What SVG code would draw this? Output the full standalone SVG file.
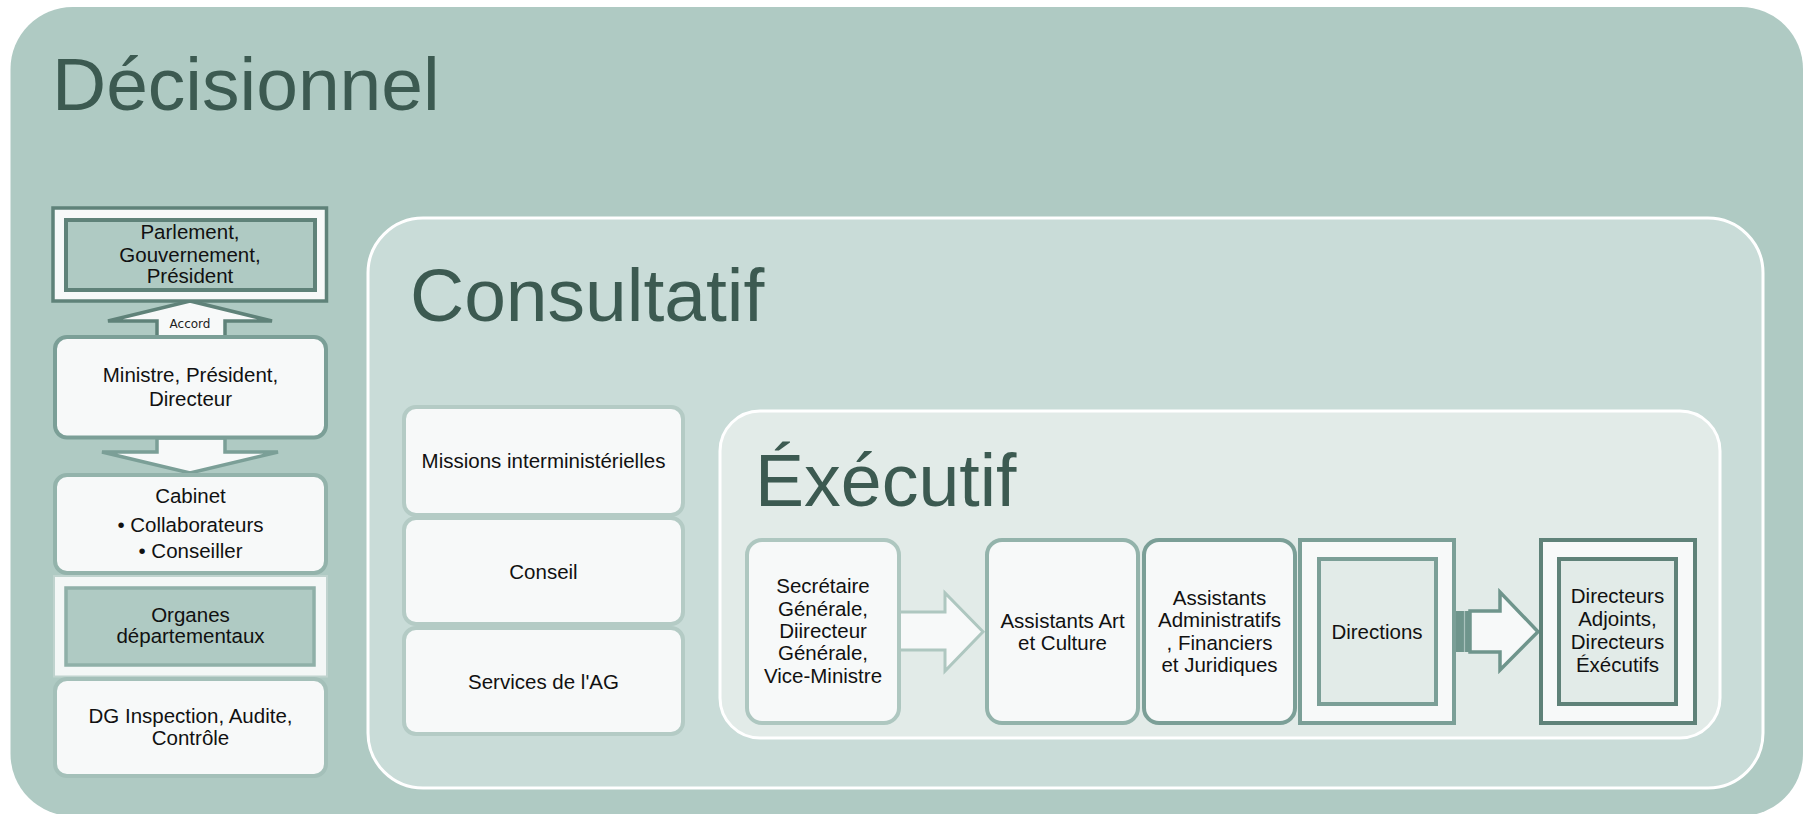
<svg xmlns="http://www.w3.org/2000/svg" width="1803" height="814" viewBox="0 0 1803 814">
<style>
.title{font-family:"Liberation Sans",Arial,sans-serif;fill:#3c5a51}
.t{font-family:"Liberation Sans",Arial,sans-serif;font-size:20.5px;fill:#111;text-anchor:middle}
.box{fill:#f7f9f9}
</style>
<rect x="10.5" y="7" width="1792.5" height="809" rx="62" fill="#afcac3"/>
<text class="title" x="52" y="110" font-size="75">Décisionnel</text>
<rect x="368" y="218" width="1395" height="570" rx="55" fill="#c9dcd8" stroke="#ffffff" stroke-width="3"/>
<text class="title" x="410" y="321" font-size="75">Consultatif</text>
<rect x="720" y="411" width="1000" height="327" rx="40" fill="#e2ebe8" stroke="#ffffff" stroke-width="3"/>
<text class="title" x="755" y="506" font-size="73.5">Éxécutif</text>

<g id="connectors">
  <polygon points="190,301 272,321 225,321 225,337 157,337 157,321 108,321" fill="#f7f9f9" stroke="#5f8279" stroke-width="3.5" stroke-linejoin="miter"/>
  <text x="190" y="327.5" font-family="DejaVu Sans,sans-serif" font-size="12" fill="#222" text-anchor="middle">Accord</text>
  <polygon points="157,438 225,438 225,452 278,452 190,473 102,452 157,452" fill="#f7f9f9" stroke="#7b9f97" stroke-width="3.5"/>
  <polygon points="897,612 945,612 945,593 983,631.7 945,671 945,650 897,650" fill="#f7f9f9" stroke="#aec7c0" stroke-width="3"/>
  <rect x="1455" y="611" width="15" height="41" fill="#6f958c"/>
  <line x1="1464.5" y1="611" x2="1464.5" y2="652" stroke="#a9c2bc" stroke-width="1.2"/>
  <polygon points="1470,611 1500,611 1500,592 1538,631.7 1500,670 1500,652 1470,652" fill="#f7f9f9" stroke="#6f958c" stroke-width="3.5"/>
</g>

<g id="parlement">
  <rect x="53" y="208" width="273.5" height="93" fill="#f7f9f9" stroke="#5f8279" stroke-width="3.5"/>
  <rect x="66" y="220" width="249" height="70" fill="#afcac3" stroke="#5f8279" stroke-width="4"/>
  <text class="t" x="190" y="239">Parlement,</text>
  <text class="t" x="190" y="261.5">Gouvernement,</text>
  <text class="t" x="190" y="282.5">Président</text>
</g>
<g id="ministre">
  <rect x="55" y="337" width="271" height="100.5" rx="12" class="box" stroke="#7b9f97" stroke-width="4"/>
  <text class="t" x="190.5" y="381.7">Ministre, Président,</text>
  <text class="t" x="190.5" y="405.7">Directeur</text>
</g>
<g id="cabinet">
  <rect x="55" y="475" width="271" height="98" rx="12" class="box" stroke="#93b3ab" stroke-width="4"/>
  <text class="t" x="190.5" y="503">Cabinet</text>
  <text class="t" x="190.5" y="531.7">• Collaborateurs</text>
  <text class="t" x="190.5" y="558">• Conseiller</text>
</g>
<g id="organes">
  <rect x="54" y="576" width="273" height="100.5" fill="#f3f7f6" stroke="#bfd3ce" stroke-width="2"/>
  <rect x="66" y="588" width="248" height="77" fill="#afcac3" stroke="#8fb0a8" stroke-width="3.5"/>
  <text class="t" x="190.5" y="621.7">Organes</text>
  <text class="t" x="190.5" y="643">départementaux</text>
</g>
<g id="dg">
  <rect x="55" y="679" width="271" height="97" rx="12" class="box" stroke="#a4c0b9" stroke-width="4"/>
  <text class="t" x="190.5" y="723">DG Inspection, Audite,</text>
  <text class="t" x="190.5" y="745">Contrôle</text>
</g>

<g id="missions">
  <rect x="404" y="407" width="279" height="108" rx="12" class="box" stroke="#b4cbc5" stroke-width="4"/>
  <text class="t" x="543.5" y="468">Missions interministérielles</text>
</g>
<g id="conseil">
  <rect x="404" y="518" width="279" height="106" rx="12" class="box" stroke="#b4cbc5" stroke-width="4"/>
  <text class="t" x="543.5" y="578.5">Conseil</text>
</g>
<g id="services">
  <rect x="404" y="628" width="279" height="106" rx="12" class="box" stroke="#b4cbc5" stroke-width="4"/>
  <text class="t" x="543.5" y="688.5">Services de l'AG</text>
</g>

<g id="secretaire">
  <rect x="747" y="540" width="152" height="183" rx="15" class="box" stroke="#aec7c0" stroke-width="4"/>
  <text class="t" x="823" y="593">Secrétaire</text>
  <text class="t" x="823" y="615.5">Générale,</text>
  <text class="t" x="823" y="638">Diirecteur</text>
  <text class="t" x="823" y="660.3">Générale,</text>
  <text class="t" x="823" y="682.7">Vice-Ministre</text>
</g>
<g id="assistants-art">
  <rect x="987" y="540" width="151" height="183" rx="15" class="box" stroke="#93b3ab" stroke-width="4"/>
  <text class="t" x="1062.5" y="627.7">Assistants Art</text>
  <text class="t" x="1062.5" y="649.5">et Culture</text>
</g>
<g id="assistants-admin">
  <rect x="1144" y="540" width="151" height="183" rx="15" class="box" stroke="#7b9f97" stroke-width="4"/>
  <text class="t" x="1219.5" y="604.5">Assistants</text>
  <text class="t" x="1219.5" y="627">Administratifs</text>
  <text class="t" x="1219.5" y="649.5">, Financiers</text>
  <text class="t" x="1219.5" y="671.5">et Juridiques</text>
</g>
<g id="directions">
  <rect x="1300" y="540" width="154" height="183" class="box" stroke="#7b9f97" stroke-width="4"/>
  <rect x="1319" y="559" width="117" height="145" fill="#e2ebe8" stroke="#7b9f97" stroke-width="4"/>
  <text class="t" x="1377" y="639">Directions</text>
</g>
<g id="directeurs">
  <rect x="1541" y="540" width="154" height="183" class="box" stroke="#5f8279" stroke-width="4"/>
  <rect x="1559" y="559" width="117" height="145" fill="#e2ebe8" stroke="#5f8279" stroke-width="4"/>
  <text class="t" x="1617.5" y="603.3">Directeurs</text>
  <text class="t" x="1617.5" y="626.3">Adjoints,</text>
  <text class="t" x="1617.5" y="649.3">Directeurs</text>
  <text class="t" x="1617.5" y="671.8">Éxécutifs</text>
</g>
</svg>
